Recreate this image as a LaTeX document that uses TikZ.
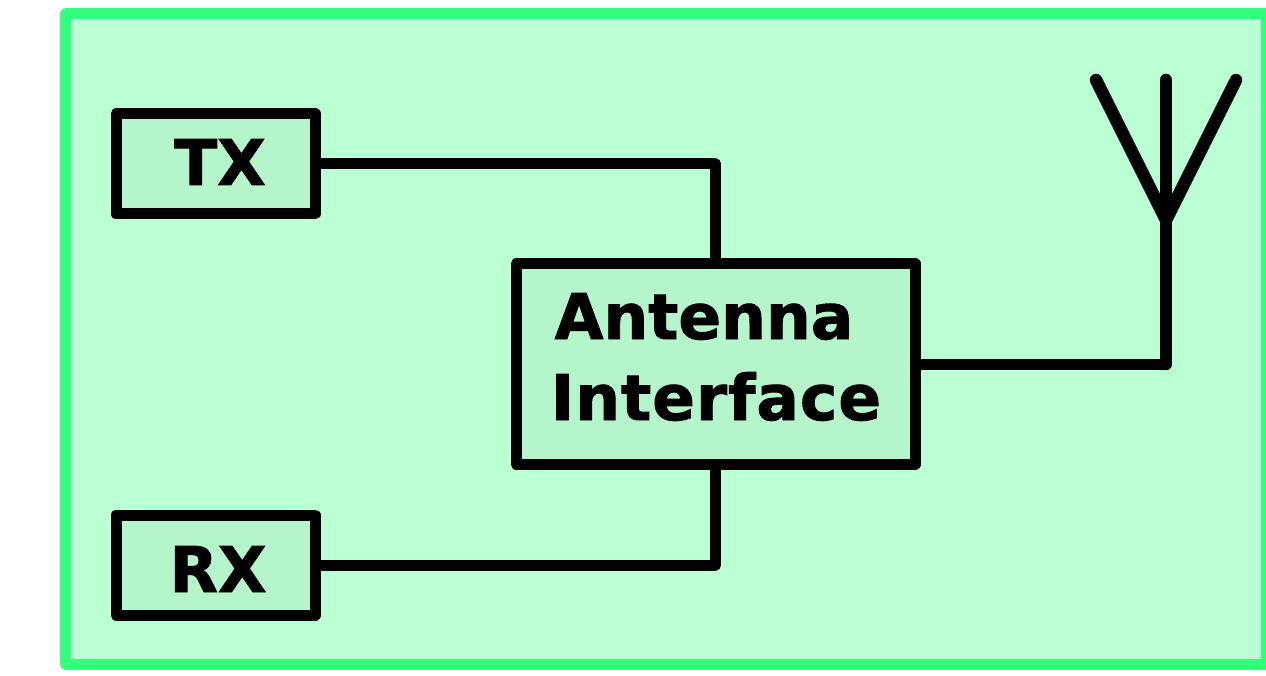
\documentclass[tikz,border=0pt]{standalone}
\usetikzlibrary{backgrounds}
\usepackage{fontspec}
\setmainfont[BoldFeatures={FakeBold=1.5}]{DejaVu Sans}
\definecolor{framegreen}{HTML}{33FF7F}
\definecolor{panelgreen}{HTML}{BBFFD5}
\definecolor{boxgreen}{HTML}{B5F5CB}
\tikzset{
  x=1pt,y=-1pt,
  blockbox/.style={draw=black,fill=boxgreen,line width=11pt,line join=round,outer sep=0pt,inner sep=0pt,minimum width=#1},
  wire/.style={draw=black,line width=11pt,line cap=round,line join=round},
  aerial/.style={draw=black,line width=12.5pt,line cap=round,line join=round},
  boxlabel/.style={anchor=base,inner sep=0pt,outer sep=0pt,font=\fontsize{63}{63}\selectfont\bfseries}
}
\begin{document}
\begin{tikzpicture}
\useasboundingbox (0,0) rectangle (1266,676);
\clip (0,0) rectangle (1266,676);
\coordinate (antbase) at (1166,364);
\coordinate (anttop) at (1166,80);
\coordinate (antjoin) at (1166,220);
\coordinate (antleft) at (1096,80);
\coordinate (antright) at (1236,80);
\node[blockbox=199pt,minimum height=100pt] (tx) at (215.5,164) {};
\node[blockbox=199pt,minimum height=100pt] (rx) at (215.5,565) {};
\node[blockbox=399pt,minimum height=200pt] (ai) at (715.5,364) {};
\node[boxlabel] (txl) at (220,185) {TX};
\node[boxlabel] (rxl) at (218,592) {RX};
\node[boxlabel] (ail1) at (704,339) {Antenna};
\node[boxlabel] (ail2) at (716,420) {\addfontfeature{LetterSpace=1.6}Interface};
\begin{scope}[on background layer]
\fill[white] (0,0) rectangle (1266,676);
\draw[draw=framegreen,fill=panelgreen,line width=11pt,line join=round] (65.5,14) rectangle (1266,664);
\draw[wire] (tx.east) -| (ai.north);
\draw[wire] (rx.east) -| (ai.south);
\draw[wire] (ai.east) -- (antbase);
\draw[aerial] (antbase) -- (anttop);
\draw[aerial] (antleft) -- (antjoin) -- (antright);
\end{scope}
\end{tikzpicture}
\end{document}
